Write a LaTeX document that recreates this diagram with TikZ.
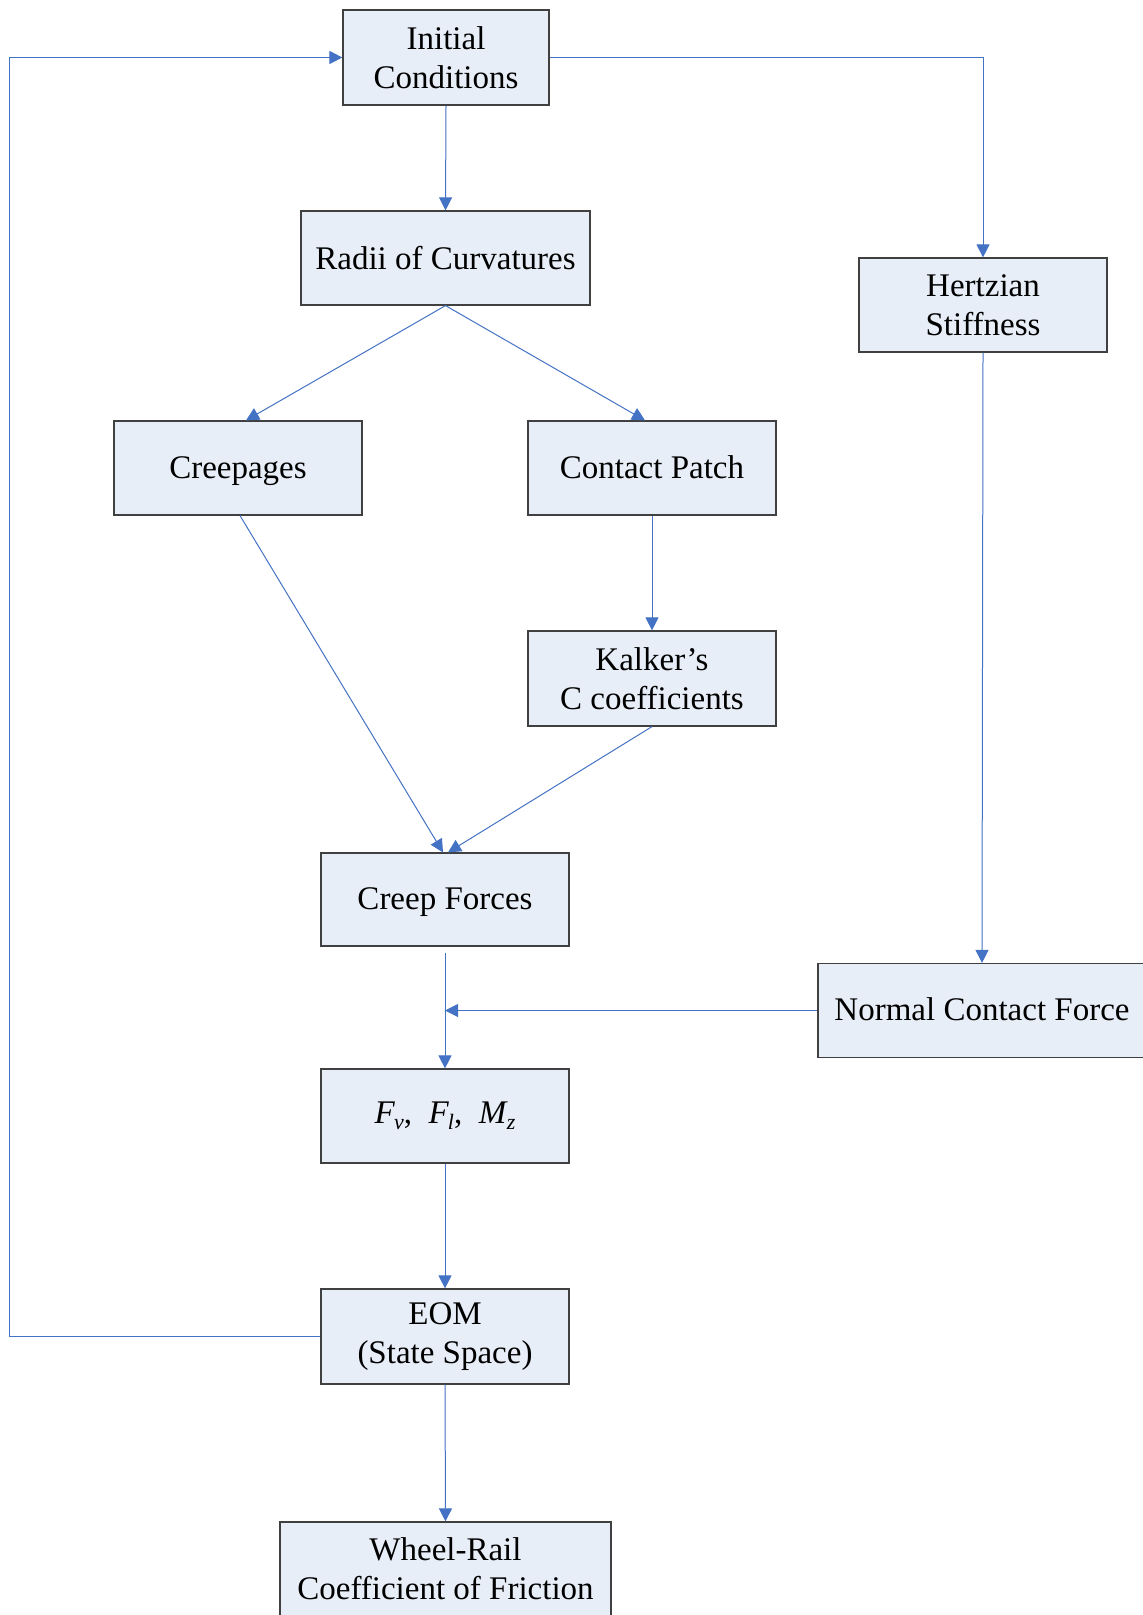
\documentclass[tikz,border=0pt]{standalone}
\usepackage{fontspec}
\setmainfont{Liberation Serif}
\usetikzlibrary{arrows.meta}
\definecolor{linkblue}{RGB}{68,114,196}
\definecolor{boxfill}{RGB}{232,238,247}
\definecolor{boxline}{RGB}{64,64,64}
\newcommand{\fsub}[2]{\textit{#1}\kern-0.5pt\raisebox{-0.4ex}{\fontsize{11}{11}\selectfont\textit{#2}}}

\begin{document}
\begin{tikzpicture}[x=0.5pt,y=-0.5pt,
  block/.style={draw=boxline,line width=0.6pt,fill=boxfill,align=center,
    minimum width=124pt,minimum height=47pt,inner sep=2pt,
    font=\fontsize{16.5}{19.5}\selectfont},
  oneline/.style={text height=13pt,text depth=3pt},
  link/.style={draw=linkblue,line width=0.5pt,-{Triangle[length=6.5pt,width=6.5pt]}}]
\useasboundingbox (0,0) rectangle (1143,1615);
\node [block,minimum width=103pt,minimum height=47.5pt] (init) at (446,57.5) {Initial\\Conditions};
\node [block,minimum width=144.5pt] (radii) at (445.5,258) {Radii of Curvatures};
\node [block] (hertz) at (983,305) {Hertzian\\Stiffness};
\node [block,oneline] (creep) at (238,468) {Creepages};
\node [block,oneline] (patch) at (652,468) {Contact Patch};
\node [block,minimum height=47.5pt] (kalker) at (652,678.5) {Kalker’s\\C coefficients};
\node [block,oneline,minimum height=46.5pt] (cforce) at (445,899.5) {Creep Forces};
\node [block,oneline,minimum width=164pt] (ncf) at (982,1010.5) {Normal Contact Force};
\node [block] (fv) at (445,1116) {\fsub{F}{v},\ \ \fsub{F}{l},\ \ \fsub{M}{z}};
\node [block,minimum height=47.5pt] (eom) at (445,1336.5) {EOM\\(State Space)};
\node [block,minimum width=165.5pt] (fric) at (445.5,1569) {Wheel-Rail\\Coefficient of Friction};
\coordinate (loop) at (9.5,0);
\coordinate (join) at (cforce.south |- ncf.west);
\draw [link] (init.south) -- (radii.north);
\draw [link] (radii.south) -- ([xshift=4pt]creep.north);
\draw [link] (radii.south) -- ([xshift=-3.5pt]patch.north);
\draw [link] (patch.south) -- (kalker.north);
\draw [link] ([xshift=1pt]creep.south) -- ([xshift=-1pt]cforce.north);
\draw [link] (kalker.south) -- ([xshift=1.5pt]cforce.north);
\draw [link] (init.east) -| (hertz.north);
\draw [link] (hertz.south) -- (ncf.north);
\draw [link] ([yshift=-3pt]cforce.south) -- (fv.north);
\draw [link] (ncf.west) -- (join);
\draw [link] (fv.south) -- (eom.north);
\draw [link] (eom.south) -- (fric.north);
\draw [link] (eom.west) -- (eom.west -| loop) |- (init.west);
\end{tikzpicture}
\end{document}
